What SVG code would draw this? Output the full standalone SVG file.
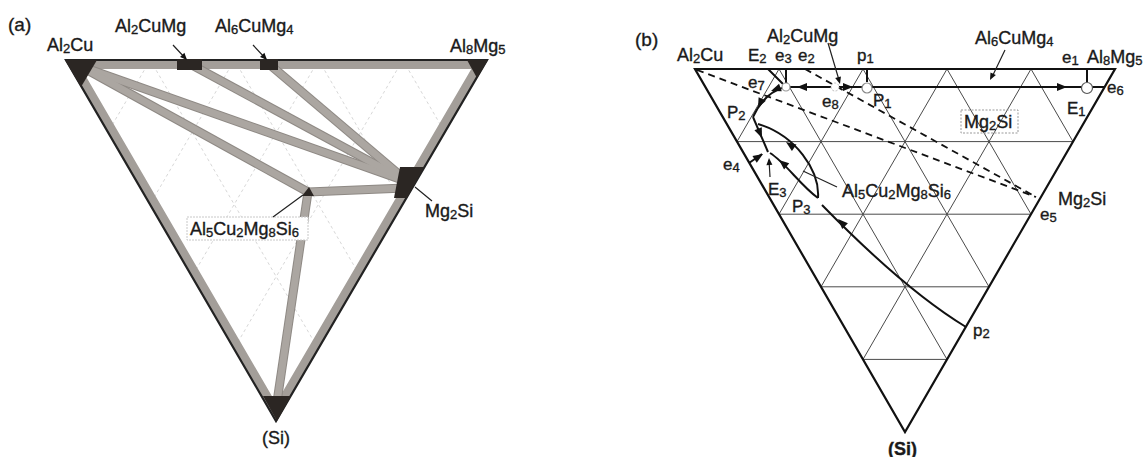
<svg xmlns="http://www.w3.org/2000/svg" xmlns:xlink="http://www.w3.org/1999/xlink" width="1148" height="457" viewBox="0 0 1148 457">
<style>
.t{font-family:"Liberation Sans",Arial,sans-serif;font-size:18px;fill:#1a1a1a;stroke:#1a1a1a;stroke-width:0.35}
.p{font-family:"Liberation Sans",Arial,sans-serif;font-size:17px;fill:#1a1a1a;stroke:#1a1a1a;stroke-width:0.35}
.s{font-size:13px}
.grid{stroke:#4a4a4a;stroke-width:1;fill:none}
.fg{stroke:#cdcdcd;stroke-width:0.8;stroke-dasharray:3 3;fill:none}
.bo{stroke:#8e8984;stroke-width:9;fill:none}
.bi{stroke:#aba6a1;stroke-width:7;fill:none}
.dk{fill:#2b2623}
.ln{stroke:#111;stroke-width:2;fill:none}
.th{stroke:#222;stroke-width:1.2;fill:none}
.ds{stroke:#111;stroke-width:1.8;stroke-dasharray:7 5;fill:none}
.ah{fill:#111}
</style>
<defs>
<clipPath id="clipA"><polygon points="66,60 487,60 276,421"/></clipPath>
<path id="arr" d="M0,0 L-10,-4 L-10,4 Z"/>
<path id="arrs" d="M0,0 L-7,-3 L-7,3 Z"/>
<path id="b1" d="M80,66 L408,182"/>
<path id="b2" d="M190,64 L408,182"/>
<path id="b3" d="M269,64 L408,182"/>
<path id="b4" d="M80,66 L308,192"/>
<path id="b5" d="M308,192 L405,188"/>
<path id="b6" d="M308,192 L277,402"/>
</defs>

<!-- (a) -->
<g id="diagram-a">
<g id="grid-a">
<path class="fg" d="M150.2,60 L108,132.2 M234.4,60 L150,204.4 M318.6,60 L192,276.6 M402.8,60 L234,348.8 M150.2,60 L318.2,348.8 M234.4,60 L360.4,276.6 M318.6,60 L402.6,204.4 M402.8,60 L444.8,132.2"/>
</g>
<g id="edges-a">
<polygon points="66,60 487,60 276,421" fill="none" stroke="#a39e99" stroke-width="18" clip-path="url(#clipA)"/>
<polygon points="66,60 487,60 276,421" fill="none" stroke="#222" stroke-width="2.2"/>
</g>
<g id="tielines-a">
<use xlink:href="#b1" class="bo"/><use xlink:href="#b2" class="bo"/><use xlink:href="#b3" class="bo"/>
<use xlink:href="#b4" class="bo"/><use xlink:href="#b5" class="bo"/><use xlink:href="#b6" class="bo"/>
<use xlink:href="#b1" class="bi"/><use xlink:href="#b2" class="bi"/><use xlink:href="#b3" class="bi"/>
<use xlink:href="#b4" class="bi"/><use xlink:href="#b5" class="bi"/><use xlink:href="#b6" class="bi"/>
</g>
<g id="node-a-Al2Cu"><polygon class="dk" points="65,60 97,60 81,87"/>
<text class="t" x="47" y="51">Al<tspan class="s" dy="2">2</tspan><tspan dy="-2">Cu</tspan></text></g>
<g id="node-a-Al2CuMg"><rect class="dk" x="177" y="59" width="25" height="11"/>
<text class="t" x="115" y="32">Al<tspan class="s" dy="2">2</tspan><tspan dy="-2">CuMg</tspan></text></g>
<g id="node-a-Al6CuMg4"><rect class="dk" x="260" y="59" width="18" height="11"/>
<text class="t" x="215" y="32">Al<tspan class="s" dy="2">6</tspan><tspan dy="-2">CuMg</tspan><tspan class="s" dy="2">4</tspan></text></g>
<g id="node-a-Al8Mg5"><polygon class="dk" points="467,60 488,60 477,78"/>
<text class="t" x="450" y="52">Al<tspan class="s" dy="2">8</tspan><tspan dy="-2">Mg</tspan><tspan class="s" dy="2">5</tspan></text></g>
<g id="node-a-Mg2Si"><polygon class="dk" points="400,167 424,167 407,198 394,198"/>
<text class="t" x="425" y="217">Mg<tspan class="s" dy="2">2</tspan><tspan dy="-2">Si</tspan></text></g>
<g id="node-a-Al5Cu2Mg8Si6"><polygon class="dk" points="302,196 314,196 309,187"/>
<rect x="187" y="217" width="121" height="23" fill="#fff" stroke="#c8c8c8" stroke-width="1" stroke-dasharray="2 1"/>
<text class="t" x="190" y="235">Al<tspan class="s" dy="2">5</tspan><tspan dy="-2">Cu</tspan><tspan class="s" dy="2">2</tspan><tspan dy="-2">Mg</tspan><tspan class="s" dy="2">8</tspan><tspan dy="-2">Si</tspan><tspan class="s" dy="2">6</tspan></text></g>
<g id="node-a-Si"><polygon class="dk" points="263,396 291,396 277,421"/>
<text class="t" x="262" y="444">(Si)</text></g>
<g id="leaders-a">
<path class="th" d="M173,45 L186,59 M253,45 L266,59 M432,201 L415,187 M273,217 L303,195"/>
<use xlink:href="#arrs" class="ah" transform="translate(187,60) rotate(47)"/>
<use xlink:href="#arrs" class="ah" transform="translate(267,60) rotate(47)"/>
</g>
<text class="t" x="8" y="31" style="font-size:19px">(a)</text>
</g>

<!-- (b) -->
<g id="diagram-b">
<g id="grid-b">
<path class="grid" d="M737,141.6 L1073,141.6 M779,214.2 L1031,214.2 M821,286.8 L989,286.8 M863,359.4 L947,359.4 M779,69 L947,359.4 M863,69 L989,286.8 M947,69 L1031,214.2 M1031,69 L1073,141.6 M779,69 L737,141.6 M863,69 L779,214.2 M947,69 L821,286.8 M1031,69 L863,359.4"/>
<polygon points="695,69 1115,69 905,432" fill="none" stroke="#111" stroke-width="2.2"/>
</g>
<g id="connectors-b">
<path class="ds" d="M697,70 L1036,197"/>
<path class="ds" d="M805,69 L1036,197"/>
<path class="ln" d="M785,87 L1105,87"/>
<path class="ln" d="M768,69 L783,84 M786,69 L786,83 M867,69 L867,82 M1087,69 L1087,82"/>
<path class="ln" d="M785,87 Q765,92 753,117"/>
<path class="ln" d="M753,117 L768,152"/>
<path class="ln" d="M818,198 C820,170 795,135 758,124"/>
<path class="ln" d="M818,198 C800,185 785,162 770,153"/>
<path class="ln" d="M749,163 L762,154"/>
<path class="th" d="M770,177 L769,160"/>
<path class="ln" d="M966,327 Q905,290 822,205"/>
<path class="th" d="M837,187 L803,171 M828,43 L839,80 M1005,50 L992,77"/>
<use xlink:href="#arr" class="ah" transform="translate(797,87) rotate(180)"/>
<use xlink:href="#arr" class="ah" transform="translate(853,87)"/>
<use xlink:href="#arr" class="ah" transform="translate(1067,87)"/>
<use xlink:href="#arr" class="ah" transform="translate(771,91) rotate(160)"/>
<use xlink:href="#arr" class="ah" transform="translate(758,108) rotate(115)"/>
<use xlink:href="#arr" class="ah" transform="translate(762,138) rotate(67)"/>
<use xlink:href="#arr" class="ah" transform="translate(786,142) rotate(-145)"/>
<use xlink:href="#arr" class="ah" transform="translate(779,160) rotate(-140)"/>
<use xlink:href="#arr" class="ah" transform="translate(763,154) rotate(-33)"/>
<use xlink:href="#arrs" class="ah" transform="translate(769,158) rotate(-93)"/>
<use xlink:href="#arr" class="ah" transform="translate(838,219) rotate(-135)"/>
<use xlink:href="#arrs" class="ah" transform="translate(840,84) rotate(74)"/>
<use xlink:href="#arrs" class="ah" transform="translate(990,80) rotate(117)"/>
</g>
<g id="points-b">
<circle cx="786" cy="87" r="4" fill="#fff" stroke="#999" stroke-width="1.2"/>
<circle cx="835" cy="87" r="4" fill="#fff" stroke="#bbb" stroke-width="1" stroke-dasharray="2 1.5"/>
<circle cx="867" cy="88" r="5" fill="#fff" stroke="#888" stroke-width="1.2"/>
<circle cx="1087" cy="88" r="5.5" fill="#fff" stroke="#555" stroke-width="1.2"/>
</g>
<g id="labels-b">
<text class="t" x="635" y="46" style="font-size:19px">(b)</text>
<text class="t" x="677" y="61">Al<tspan class="s" dy="2">2</tspan><tspan dy="-2">Cu</tspan></text>
<text class="p" x="748" y="61">E<tspan class="s" dy="2">2</tspan></text>
<text class="p" x="775" y="61">e<tspan class="s" dy="2">3</tspan></text>
<text class="p" x="798" y="61">e<tspan class="s" dy="2">2</tspan></text>
<text class="p" x="857" y="61">p<tspan class="s" dy="2">1</tspan></text>
<text class="t" x="767" y="42">Al<tspan class="s" dy="2">2</tspan><tspan dy="-2">CuMg</tspan></text>
<text class="t" x="975" y="44">Al<tspan class="s" dy="2">6</tspan><tspan dy="-2">CuMg</tspan><tspan class="s" dy="2">4</tspan></text>
<text class="p" x="1062" y="63">e<tspan class="s" dy="2">1</tspan></text>
<text class="t" x="1087" y="63">Al<tspan class="s" dy="2">8</tspan><tspan dy="-2">Mg</tspan><tspan class="s" dy="2">5</tspan></text>
<text class="p" x="1107" y="93">e<tspan class="s" dy="2">6</tspan></text>
<text class="p" x="873" y="106">P<tspan class="s" dy="2">1</tspan></text>
<text class="p" x="1067" y="114">E<tspan class="s" dy="2">1</tspan></text>
<text class="p" x="822" y="107">e<tspan class="s" dy="2">8</tspan></text>
<text class="p" x="748" y="88">e<tspan class="s" dy="2">7</tspan></text>
<text class="p" x="727" y="118">P<tspan class="s" dy="2">2</tspan></text>
<text class="p" x="723" y="170">e<tspan class="s" dy="2">4</tspan></text>
<text class="p" x="768" y="195">E<tspan class="s" dy="2">3</tspan></text>
<text class="p" x="792" y="212">P<tspan class="s" dy="2">3</tspan></text>
<text class="t" x="842" y="197">Al<tspan class="s" dy="2">5</tspan><tspan dy="-2">Cu</tspan><tspan class="s" dy="2">2</tspan><tspan dy="-2">Mg</tspan><tspan class="s" dy="2">8</tspan><tspan dy="-2">Si</tspan><tspan class="s" dy="2">6</tspan></text>
<rect x="961" y="110" width="57" height="23" fill="none" stroke="#999" stroke-width="1" stroke-dasharray="2 1.5"/>
<text class="t" x="964" y="128">Mg<tspan class="s" dy="2">2</tspan><tspan dy="-2">Si</tspan></text>
<text class="t" x="1058" y="205">Mg<tspan class="s" dy="2">2</tspan><tspan dy="-2">Si</tspan></text>
<text class="p" x="1040" y="220">e<tspan class="s" dy="2">5</tspan></text>
<text class="p" x="973" y="336">p<tspan class="s" dy="2">2</tspan></text>
<text class="t" x="888" y="455" style="font-weight:bold">(Si)</text>
</g>
</g>
</svg>
